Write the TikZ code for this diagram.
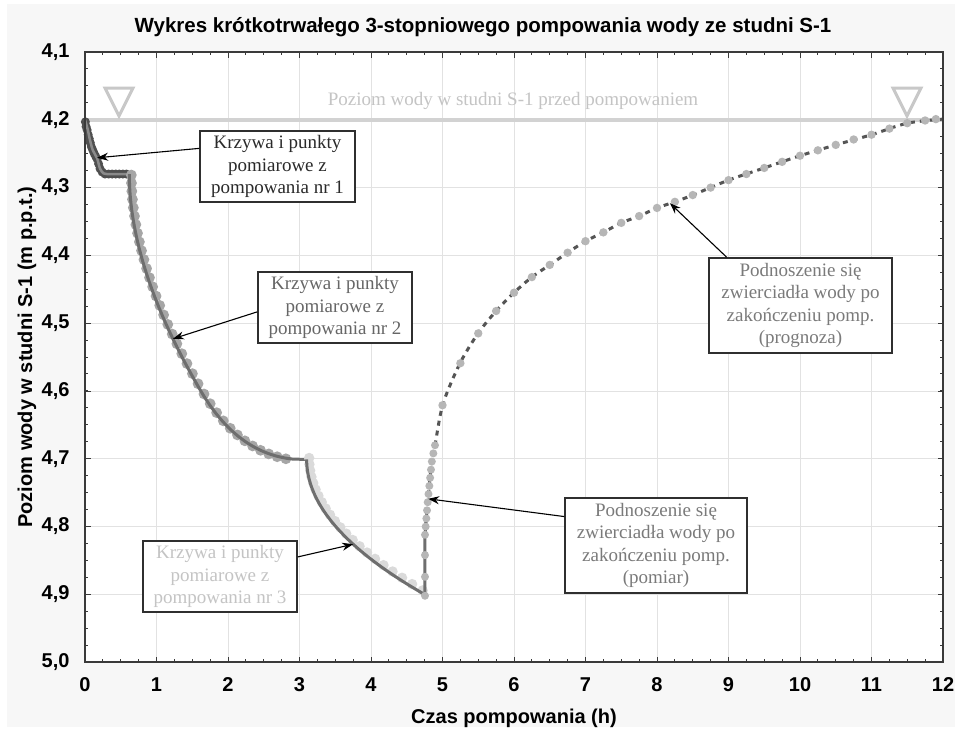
\documentclass[tikz,border=0pt]{standalone}
\usepackage{fontspec}
\setmainfont{Liberation Serif}
\setsansfont{Liberation Sans}
\usetikzlibrary{arrows.meta,calc}
\definecolor{bggray}{HTML}{F7F7F7}
\definecolor{gridc}{HTML}{E2E2E2}
\definecolor{framec}{HTML}{3A3A3A}
\definecolor{refc}{HTML}{D2D2D2}
\definecolor{tric}{HTML}{C8C8C8}
\definecolor{reftext}{HTML}{C4C4C4}
\definecolor{ponedot}{HTML}{4F4F4F}
\definecolor{ponecurve}{HTML}{8A8A8A}
\definecolor{ptwodot}{HTML}{A6A6A6}
\definecolor{pthreedot}{HTML}{DADADA}
\definecolor{curvec}{HTML}{6E6E6E}
\definecolor{recdot}{HTML}{B6B6B6}
\definecolor{dashc}{HTML}{555555}
\definecolor{boxline}{HTML}{2F2F2F}
\definecolor{txtone}{HTML}{2A2A2A}
\definecolor{txttwo}{HTML}{666666}
\definecolor{txtthree}{HTML}{C4C4C4}
\definecolor{txtfour}{HTML}{7A7A7A}
\tikzset{
  callout/.style={draw=boxline, line width=1.5pt, fill=white, align=center, inner sep=0pt,
    font=\fontsize{19}{22.5}\selectfont},
  arr/.style={-{Stealth[length=11pt,width=8pt]}, line width=1.1pt, black},
  axlab/.style={font=\sffamily\bfseries\fontsize{20}{24}\selectfont, text=black},
  ticklen/.style={line width=1pt, framec}
}
\begin{document}
\begin{tikzpicture}[x=1pt,y=-1pt]
\useasboundingbox (0,0) rectangle (960,731);
\fill[white] (0,0) rectangle (960,731);
\fill[bggray] (7,4) rectangle (955,727);
\node[font=\sffamily\bfseries\fontsize{20.5}{24}\selectfont] (title) at (483,27)
  {Wykres krótkotrwałego 3-stopniowego pompowania wody ze studni S-1};
% data scope: (t, h-4.1)
\begin{scope}[shift={(85,52)},x=71.5pt,y=-678pt]
  \fill[white] (0,0) rectangle (12,0.9);
  % grid
  \foreach \i in {1,...,11} \draw[gridc, line width=1pt] (\i,0) -- (\i,0.9);
  \foreach \j in {1,...,8} \draw[gridc, line width=1pt] (0,{0.1*\j}) -- (12,{0.1*\j});
  % ticks
  \foreach \i in {0,...,48} {
    \draw[ticklen] ({0.25*\i},0.9) -- ++(0pt,3pt);
    \draw[ticklen] ({0.25*\i},0) -- ++(0pt,-3pt);
  }
  \foreach \i in {0,...,12} {
    \draw[ticklen] (\i,0.9) -- ++(0pt,5.5pt);
    \draw[ticklen] (\i,0) -- ++(0pt,-5.5pt);
  }
  \foreach \j in {0,...,36} {
    \draw[ticklen] (0,{0.025*\j}) -- ++(3pt,0pt);
    \draw[ticklen] (12,{0.025*\j}) -- ++(-3pt,0pt);
  }
  \foreach \j in {0,...,9} {
    \draw[ticklen] (0,{0.1*\j}) -- ++(5.5pt,0pt);
    \draw[ticklen] (12,{0.1*\j}) -- ++(-5.5pt,0pt);
  }
  % reference level
  \draw[refc, line width=4.5pt] (0,0.1) -- (12,0.1);
  % pumping 1
  \foreach \t/\d in {0.005/0.103, 0.015/0.11, 0.03/0.115, 0.045/0.122, 0.06/0.128, 0.075/0.134, 0.09/0.14, 0.11/0.145, 0.13/0.15, 0.15/0.154, 0.17/0.158, 0.19/0.165, 0.21/0.172, 0.24/0.177, 0.28/0.18, 0.33/0.18, 0.38/0.18, 0.43/0.18, 0.48/0.18, 0.53/0.18, 0.58/0.18}
    \fill[ponedot] (\t,\d) circle (4.5pt);
  \draw[ponecurve, line width=2.5pt] plot[smooth] coordinates {(0,0.1) (0.04,0.115) (0.07,0.13) (0.11,0.145) (0.17,0.157) (0.21,0.172) (0.26,0.179) (0.32,0.18)} -- (0.62,0.18);
  % pumping 2
  \foreach \u in {0,0.042,...,1.51}
    \fill[ptwodot, xshift=2pt, yshift=-1pt] ({0.62+\u*\u}, {0.18 + 0.28*min(\u,1) + 0.04*min(\u,1)^2 + 0.36*max(\u-1,0) - 0.32*max(\u-1,0)^2}) circle (5.4pt);
  \draw[curvec, line width=3pt] plot[domain=0:1.51, samples=90, variable=\u] ({0.62+\u*\u}, {0.18 + 0.28*min(\u,1) + 0.04*min(\u,1)^2 + 0.36*max(\u-1,0) - 0.32*max(\u-1,0)^2}) -- (3.1,0.601);
  % pumping 3
  \foreach \u in {0,0.06,...,1.29}
    \fill[pthreedot, xshift=2.5pt, yshift=1.5pt] ({3.1+\u*\u}, {0.601+0.155*\u}) circle (5.2pt);
  \draw[curvec, line width=3pt] plot[domain=0:1.286, samples=80, variable=\u] ({3.1+\u*\u}, {0.601+0.155*\u});
  % recovery measured + forecast
  \draw[curvec, line width=3pt] (4.754,0.8) -- (4.755,0.712);
  \draw[dashc, line width=3pt, dash pattern=on 5pt off 5pt] plot[smooth] coordinates {(4.755,0.712) (4.797,0.659) (4.853,0.602) (4.895,0.580) (5.007,0.519) (5.245,0.459) (5.497,0.415) (5.75,0.382) (6.0,0.355) (6.25,0.332) (6.5,0.314) (6.75,0.296) (7.0,0.279) (7.25,0.266) (7.5,0.252) (7.75,0.242) (8.0,0.230) (8.25,0.221) (8.5,0.211) (9.0,0.189) (9.5,0.171) (10.0,0.153) (10.5,0.137) (11.0,0.122) (11.5,0.105) (12.0,0.099)};
  \foreach \t/\d in {4.755/0.802, 4.755/0.774, 4.755/0.742, 4.755/0.712, 4.7645/0.700, 4.774/0.688, 4.7835/0.676, 4.793/0.664, 4.804/0.652, 4.816/0.640, 4.827/0.628, 4.839/0.616, 4.851/0.604, 4.872/0.592, 4.895/0.580}
    \fill[recdot] (\t,\d) circle (4pt);
  \foreach \t/\d in {5.0/0.521, 5.25/0.459, 5.5/0.415, 5.75/0.382, 6.0/0.355, 6.25/0.332, 6.5/0.314, 6.75/0.296, 7.0/0.279, 7.25/0.266, 7.5/0.252, 7.75/0.242, 8.0/0.230, 8.25/0.221, 8.5/0.211, 8.75/0.200, 9.0/0.189, 9.25/0.180, 9.5/0.171, 9.75/0.162, 10.0/0.153, 10.25/0.145, 10.5/0.137, 10.75/0.129, 11.0/0.122, 11.25/0.113, 11.5/0.105, 11.75/0.101, 11.9/0.099}
    \fill[recdot] (\t,\d) circle (4.2pt);
  % arrow tips
  \coordinate (tipone) at (0.17,0.156);
  \coordinate (tiptwo) at (1.23,0.423);
  \coordinate (tipthree) at (3.75,0.726);
  \coordinate (tipfour) at (4.80,0.659);
  \coordinate (tipfive) at (8.18,0.223);
  % frame
  \draw[framec, line width=1.6pt] (0,0) rectangle (12,0.9);
\end{scope}
% triangles
\draw[tric, line width=3pt, line join=miter] (105,88) -- (133,88) -- (119,116) -- cycle;
\draw[tric, line width=3pt, line join=miter] (893,88) -- (921,88) -- (907,116) -- cycle;
\node[text=reftext, font=\fontsize{19}{22}\selectfont] (reflab) at (513,101) {Poziom wody w studni S-1 przed pompowaniem};
% tick labels
\foreach \j in {0,...,8} \node[axlab, anchor=east] at (73,{52+67.78*\j}) {4,\the\numexpr\j+1\relax};
\node[axlab, anchor=east] (yfive) at (73,662) {5,0};
\foreach \i in {0,...,12} \node[axlab] at ({85+71.5*\i},685) {\i};
\node[axlab] (xlab) at (514,718) {Czas pompowania (h)};
\node[axlab, rotate=90] (ylab) at (27,357) {Poziom wody w studni S-1 (m p.p.t.)};
% callouts
\node[callout, minimum width=155pt, minimum height=71pt, text=txtone] (bone) at (277.5,166.5) {Krzywa i punkty\\pomiarowe z\\pompowania nr 1};
\node[callout, minimum width=154pt, minimum height=71pt, text=txttwo] (btwo) at (335,307.5) {Krzywa i punkty\\pomiarowe z\\pompowania nr 2};
\node[callout, minimum width=154pt, minimum height=71pt, text=txtthree] (bthree) at (220,576.5) {Krzywa i punkty\\pomiarowe z\\pompowania nr 3};
\node[callout, minimum width=182pt, minimum height=95pt, text=txtfour] (bfour) at (656,545.5) {Podnoszenie się\\zwierciadła wody po\\zakończeniu pomp.\\(pomiar)};
\node[callout, minimum width=183pt, minimum height=95pt, text=txtfour] (bfive) at (800.5,305.5) {Podnoszenie się\\zwierciadła wody po\\zakończeniu pomp.\\(prognoza)};
% arrows
\draw[arr] ($(bone.north west)!0.25!(bone.south west)$) -- (tipone);
\draw[arr] ($(btwo.north west)!0.56!(btwo.south west)$) -- (tiptwo);
\draw[arr] ($(bthree.north east)!0.23!(bthree.south east)$) -- (tipthree);
\draw[arr] ($(bfour.north west)!0.2!(bfour.south west)$) -- (tipfour);
\draw[arr] ($(bfive.north west)!0.1!(bfive.north east)$) -- (tipfive);
\end{tikzpicture}
\end{document}
